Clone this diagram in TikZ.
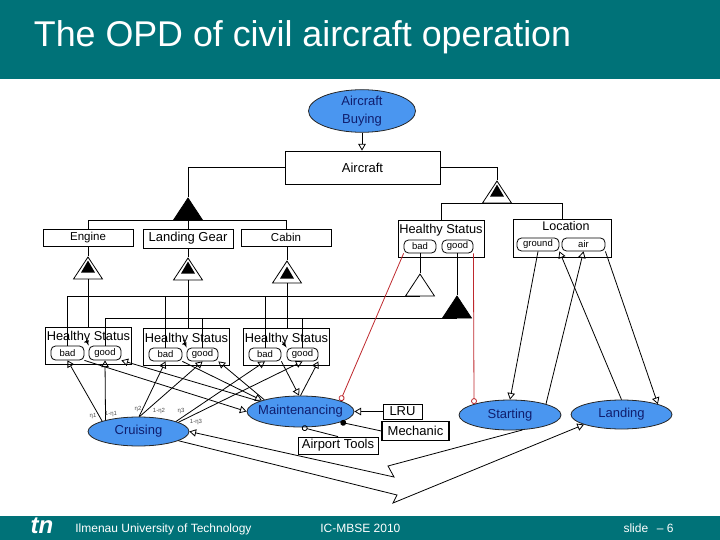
\documentclass[tikz,border=0pt]{standalone}
\usepackage{fontspec}
\setmainfont{Liberation Sans}
\usetikzlibrary{arrows, shapes.geometric}
\definecolor{bandteal}{RGB}{0,114,120}
\definecolor{procblue}{RGB}{74,150,240}
\definecolor{procink}{RGB}{16,30,110}
\definecolor{linkred}{RGB}{190,40,45}
\tikzset{
  objbox/.style = {draw, inner sep = 0pt, font = \fontsize{13}{15}\selectfont},
  smallobj/.style = {draw, inner sep = 0pt, font = \fontsize{11.5}{13}\selectfont},
  statebox/.style = {draw, rounded corners = 4.5pt, inner sep = 0pt, minimum height = 13pt, font = \fontsize{9.5}{11}\selectfont},
  proc/.style = {draw = black!85, ellipse, fill = procblue, inner sep = 0pt, text = procink, font = \fontsize{13}{18}\selectfont, align = center},
  tri/.style = {draw, isosceles triangle, isosceles triangle stretches, shape border rotate = 90, inner sep = 0pt, minimum width = 29pt, minimum height = 22pt},
  innertri/.style = {fill, isosceles triangle, isosceles triangle stretches, shape border rotate = 90, inner sep = 0pt, minimum width = 14pt, minimum height = 12pt},
  blab/.style = {inner sep = 0pt, text = white, font = \fontsize{12}{14}\selectfont},
  prob/.style = {inner sep = 0pt, text = black!70, font = \fontsize{6}{7}\selectfont},
  hlab/.style = {inner sep = 0pt, font = \fontsize{12.8}{15}\selectfont},
  res/.style = {-open triangle 60},
  redlink/.style = {draw = linkred, -o}
}
\begin{document}
\begin{tikzpicture}[x = 1pt, y = -1pt, line width = .8pt]
\useasboundingbox (0,0) rectangle (720,540);
\fill [bandteal] (0,0) rectangle (720,79);
\fill [bandteal] (0,516) rectangle (720,540);
\node[anchor = base west, inner sep = 0pt, text = white, font = \fontsize{35.8}{38}\selectfont] (title) at (33.5,47) {The OPD of civil aircraft operation};
\node[blab, font = \fontsize{24}{26}\bfseries\itshape\selectfont] (logo) at (42,526) {tn};
\node[blab, anchor = base west] (uni) at (75,532) {Ilmenau University of Technology};
\node[blab, anchor = base west] (conf) at (320,532) {IC-MBSE 2010};
\node[blab, anchor = base east] (slide) at (674,532) {slide \, – 6};

% processes
\node[proc, minimum width = 107pt, minimum height = 42pt] (buying) at (362,111) {Aircraft\\Buying};
\node[proc, minimum width = 107pt, minimum height = 31pt, inner xsep = -5pt] (maint) at (300.5,411.5) {Maintenancing};
\node[proc, minimum width = 101pt, minimum height = 29pt] (cruise) at (138.5,431.5) {Cruising};
\node[proc, minimum width = 102pt, minimum height = 30pt] (start) at (510,415) {Starting};
\node[proc, minimum width = 101pt, minimum height = 29pt] (land) at (621.5,414.5) {Landing};

% objects
\node[objbox, minimum width = 155pt, minimum height = 33pt] (aircraft) at (362.5,167.5) {Aircraft};
\node[smallobj, minimum width = 90pt, minimum height = 17pt] (engine) at (88,237.5) {Engine};
\node[objbox, minimum width = 90pt, minimum height = 19pt] (gear) at (188,238.5) {Landing Gear};
\node[smallobj, minimum width = 90pt, minimum height = 17pt] (cabin) at (286,237.5) {Cabin};
\node[objbox, minimum width = 39pt, minimum height = 15pt] (lru) at (402.5,411.5) {LRU};
\node[objbox, minimum width = 67pt, minimum height = 19pt, line width = 1.2pt] (mech) at (415.5,431) {Mechanic};
\node[objbox, minimum width = 80pt, minimum height = 17pt] (tools) at (338,445.5) {Airport Tools};

% objects with states
\node[draw, minimum width = 86pt, minimum height = 37pt, inner sep = 0pt] (hstop) at (441,238.5) {};
\node[hlab] (hstoplab) at (441,230.5) {Healthy Status};
\node[statebox, minimum width = 32pt] (badtop) at (420,246.5) {bad};
\node[statebox, minimum width = 31pt] (goodtop) at (457.5,246.5) {good};
\node[draw, minimum width = 98pt, minimum height = 38pt, inner sep = 0pt] (loc) at (562,238) {};
\node[hlab, font = \fontsize{12.5}{14}\selectfont] (loclab) at (566,226.5) {Location};
\node[statebox, minimum width = 42pt] (ground) at (538,244.5) {ground};
\node[statebox, minimum width = 43pt] (air) at (583.5,244.5) {air};
\node[draw, minimum width = 86pt, minimum height = 37pt, inner sep = 0pt] (hsa) at (88,345.5) {};
\node[hlab] (hsalab) at (88.5,337.5) {Healthy Status};
\node[statebox, minimum width = 33pt, minimum height = 14pt] (bada) at (67.5,353) {bad};
\node[statebox, minimum width = 32pt, minimum height = 14pt] (gooda) at (105,353) {good};
\node[draw, minimum width = 86pt, minimum height = 37pt, inner sep = 0pt] (hsb) at (186,346.5) {};
\node[hlab] (hsblab) at (186.5,339) {Healthy Status};
\node[statebox, minimum width = 33pt] (badb) at (165.5,354.5) {bad};
\node[statebox, minimum width = 31pt] (goodb) at (202.5,354.5) {good};
\node[draw, minimum width = 86pt, minimum height = 37pt, inner sep = 0pt] (hsc) at (286,346.5) {};
\node[hlab] (hsclab) at (286.5,339) {Healthy Status};
\node[statebox, minimum width = 32pt] (badc) at (265,354.5) {bad};
\node[statebox, minimum width = 31pt] (goodc) at (302.5,354.5) {good};

% triangles
\node[tri, fill, anchor = apex] (aggr) at (188,197) {};
\node[tri, anchor = apex] (char) at (497,180) {};
\node[innertri, anchor = lower side] (charin) at (497,197) {};
\node[tri, anchor = apex] (trie) at (88,256) {};
\node[innertri, anchor = lower side] (triein) at (88,273) {};
\node[tri, anchor = apex] (trig) at (188,257) {};
\node[innertri, anchor = lower side] (trigin) at (188,274) {};
\node[tri, anchor = apex] (tric) at (287,260) {};
\node[innertri, anchor = lower side] (tricin) at (287,279) {};
\node[tri, anchor = apex] (whitetri) at (420,273) {};
\node[tri, fill, anchor = apex] (blacktri) at (457,295) {};

% structure
\draw [res] (buying.south) -- (aircraft.north -| buying.south);
\draw (aircraft.west) -| (aggr.apex);
\draw (engine.north) |- (aggr.lower side) -| (cabin.north);
\draw (aggr.lower side) -- (gear.north);
\draw (aircraft.east) -| (char.apex);
\draw (hstop.north) |- (char.lower side) -| (loc.north);
\draw (engine.south) -- (trie.apex);
\draw (gear.south) -- (trig.apex);
\draw (cabin.south -| tric.apex) -- (tric.apex);
\draw (trie.lower side) -- (hsa.north);
\draw (trig.lower side) -- (hsb.north -| trig.lower side);
\draw (tric.lower side) -- (hsc.north -| tric.lower side);
\draw (badtop.south) -- (whitetri.apex);
\draw (goodtop.south -| blacktri.apex) -- (blacktri.apex);
\draw (bada.north) |- (whitetri.lower side);
\draw (badb.north) |- (whitetri.lower side);
\draw (badc.north) |- (whitetri.lower side);
\draw (gooda.north) |- (blacktri.lower side);
\draw (goodb.north) |- (blacktri.lower side);
\draw (goodc.north) |- (blacktri.lower side);

% state changes inside the objects
\draw [-latex] (bada.north east) ++(2,-6) -- (gooda.north west);
\draw [-latex] (badb.north east) ++(1,-8) -- (goodb.north west);
\draw [-latex] (badc.north east) ++(1,-6) -- (goodc.north west);

% red links
\draw [redlink] (badtop.south west) -- (maint.15);
\draw [redlink] (goodtop.south east) -- (start.163);

% links of the cruising process
\draw [res] (cruise.164) -- (bada.south);
\draw [res] (cruise.161) -- (gooda.south);
\draw [res] (cruise.88) -- (badb.south);
\draw [res] (cruise.86) -- (goodb.south);
\draw [res] (cruise.15) -- (badc.south);
\draw [res] (cruise.13) -- (goodc.south);
\node[prob] (eta1) at (93,416) {η1};
\node[prob] (neta1) at (111,414) {1-η1};
\node[prob] (eta2) at (138,409) {η2};
\node[prob] (neta2) at (159,411) {1-η2};
\node[prob] (eta3) at (181,411) {η3};
\node[prob] (neta3) at (196,422) {1-η3};

% links of the maintenance process
\draw [res] (bada.south east) -- (maint.west);
\draw [res] (maint.166) -- (gooda.south east);
\draw [res] (badb.south east) -- (maint.164);
\draw [res] (maint.162) -- (goodb.south east);
\draw [res] (badc.south east) -- (maint.95);
\draw [res] (maint.90) -- (goodc.south east);
\draw [res] (lru.west) -- (maint.east);
\draw [-*] (mech.west) -- (maint.-15);
\draw [-o] (tools.north) -- (maint.-85);

% links of starting and landing
\draw [res] (ground.south) -- (start.north);
\draw [res] (start.17) -- (air.south);
\draw [res] (land.north) -- (ground.south east);
\draw [res] (air.south east) -- (land.16);
\coordinate (kneea) at (388,466);
\coordinate (kneeb) at (394,477);
\coordinate (kneec) at (397,495);
\coordinate (kneed) at (393,503);
\draw [res] (start.-50) -- (kneea) -- (kneeb) -- (cruise.east);
\draw [res] (cruise.-13) -- (kneec) -- (kneed) -- (land.-165);
\end{tikzpicture}
\end{document}
